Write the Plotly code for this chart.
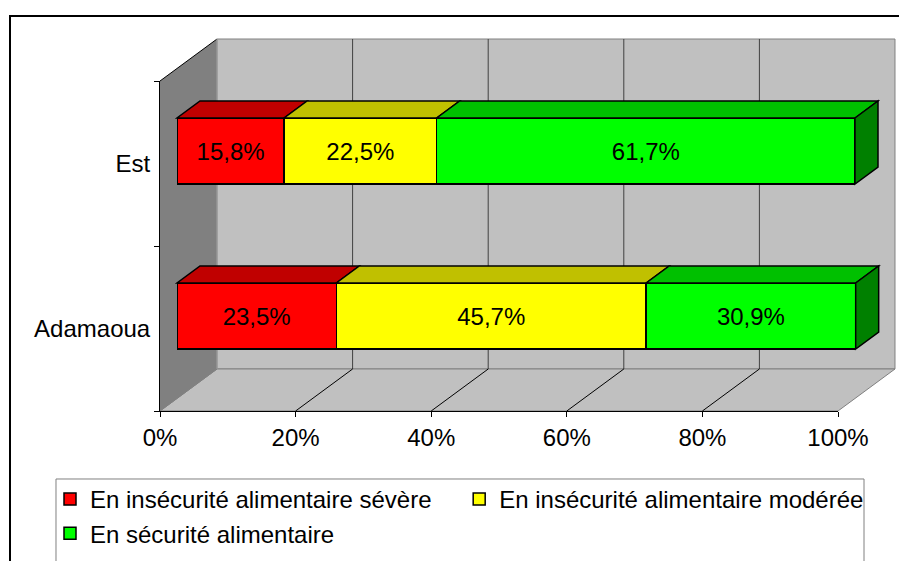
import plotly.graph_objects as go

# ---- data -------------------------------------------------------------
regions = ["Adamaoua", "Est"]
severe = [23.5, 15.8]
moderate = [45.7, 22.5]
secure = [30.9, 61.7]
series_names = [
    "En insécurité alimentaire sévère",
    "En insécurité alimentaire modérée",
    "En sécurité alimentaire",
]
x_ticks = [0, 20, 40, 60, 80, 100]
x_tick_labels = ["0%", "20%", "40%", "60%", "80%", "100%"]

# ---- styling ----------------------------------------------------------
front_colors = ["#FF0000", "#FFFF00", "#00FF00"]
top_colors = ["#C00000", "#C0C000", "#00C000"]
side_color = "#008000"
FONT = "Arial, 'Liberation Sans', sans-serif"
FS = 24

# ---- pseudo-3D box geometry (pixels) ----------------------------------
W, H = 899, 561
FX0, FX1 = 160, 838          # front floor edge, 0% .. 100%
FY0, FY1 = 81, 411           # front plane, top .. bottom
WALL_DX, WALL_DY = 57, 42    # depth of the box
BAR_DX, BAR_DY = 17, 12.5    # bars stand inside the box
FACE_DX, FACE_DY = 23, 17    # thickness of each bar
BAR_WIDTH = 0.4


def px(x):
    return x / W


def py(y):
    return 1 - y / H


def scale_x(v, shift=0.0):
    return FX0 + shift + v / 100 * (FX1 - FX0)


def band():
    return (FY1 - FY0) / len(regions)


def cat_center(i, shift=0.0):
    return FY1 - shift - (i + 0.5) * band()


def poly(points, fill, line_color=None, lw=1, layer="below"):
    path = "M" + " L".join(f"{px(x):.5f},{py(y):.5f}" for x, y in points) + " Z"
    return dict(type="path", xref="paper", yref="paper", path=path,
                fillcolor=fill, layer=layer,
                line=dict(color=line_color or "rgba(0,0,0,0)", width=lw if line_color else 0))


def seg(x0, y0, x1, y1, color, lw=1, layer="below"):
    return dict(type="line", xref="paper", yref="paper",
                x0=px(x0), y0=py(y0), x1=px(x1), y1=py(y1),
                layer=layer, line=dict(color=color, width=lw))


shapes = []
# legend panel
shapes.append(poly([(56, 479), (864, 479), (864, H + 20), (56, H + 20)],
                   "#FFFFFF", "#808080", 1))
# back wall
bx0, bx1 = FX0 + WALL_DX, FX1 + WALL_DX
by0, by1 = FY0 - WALL_DY, FY1 - WALL_DY
shapes.append(poly([(bx0, by0), (bx1, by0), (bx1, by1), (bx0, by1)], "#C0C0C0", "#808080"))
# floor
shapes.append(poly([(FX0, FY1), (FX1, FY1), (bx1, by1), (bx0, by1)], "#C0C0C0", "#808080"))
# left wall
shapes.append(poly([(FX0, FY0), (bx0, by0), (bx0, by1), (FX0, FY1)], "#808080"))
shapes.append(seg(FX0, FY0, bx0, by0, "#000000", 1))
shapes.append(seg(bx0, by0, bx0, by1, "#A0A0A0", 1))
# gridlines: up the back wall, then across the floor
for t in x_ticks[1:-1]:
    xb = scale_x(t, WALL_DX)
    xf = scale_x(t)
    shapes.append(seg(xb, by0, xb, by1, "#404040", 1))
    shapes.append(seg(xb, by1, xf, FY1, "#000000", 1))
shapes.append(seg(bx0, by1, FX0, FY1, "#808080", 1))

# top and end faces of the stacked bars
stack = [severe, moderate, secure]
half = BAR_WIDTH / 2 * band()
for i in range(len(regions)):
    cum = 0.0
    yc = cat_center(i, BAR_DY)
    ytop, ybot = yc - half, yc + half
    for k, vals in enumerate(stack):
        x0 = scale_x(cum, BAR_DX)
        cum += vals[i]
        x1 = scale_x(cum, BAR_DX)
        shapes.append(poly([(x0, ytop), (x1, ytop), (x1 + FACE_DX, ytop - FACE_DY),
                            (x0 + FACE_DX, ytop - FACE_DY)],
                           top_colors[k], "#000000", 1.5, "above"))
        if k == len(stack) - 1:
            shapes.append(poly([(x1, ytop), (x1 + FACE_DX, ytop - FACE_DY),
                                (x1 + FACE_DX, ybot - FACE_DY), (x1, ybot)],
                               side_color, "#000000", 1.5, "above"))

# chart frame
shapes.append(dict(type="rect", xref="paper", yref="paper",
                   x0=px(10), y0=py(16), x1=px(W + 20), y1=py(H + 20),
                   layer="above", line=dict(color="#000000", width=2)))

fig = go.Figure()

# holds the category axis of the front plane
fig.add_trace(go.Scatter(x=[0] * len(regions), y=regions, mode="markers",
                         marker=dict(opacity=0), showlegend=False,
                         hoverinfo="skip", xaxis="x", yaxis="y"))

for k, vals in enumerate(stack):
    fig.add_trace(go.Bar(
        y=regions, x=vals, orientation="h", name=series_names[k],
        xaxis="x2", yaxis="y2", width=BAR_WIDTH,
        marker=dict(color=front_colors[k], line=dict(color="#000000", width=1.5)),
        texttemplate="%{x:.1f}%", textposition="inside",
        insidetextanchor="middle", constraintext="none",
        textfont=dict(family=FONT, size=FS, color="#000000"),
    ))

fig.update_layout(
    width=W, height=H,
    margin=dict(l=0, r=0, t=0, b=0, autoexpand=False),
    paper_bgcolor="#FFFFFF", plot_bgcolor="rgba(0,0,0,0)",
    font=dict(family=FONT, size=FS, color="#000000"),
    barmode="stack", separators=", ",
    shapes=shapes,
    xaxis=dict(domain=[px(FX0), px(FX1)], range=[0, 100], anchor="y",
               tickvals=x_ticks, ticktext=x_tick_labels,
               ticks="outside", ticklen=5, tickcolor="#000000",
               showline=True, linecolor="#000000", linewidth=1,
               showgrid=False, zeroline=False, fixedrange=True,
               automargin=False),
    yaxis=dict(domain=[py(FY1), py(FY0)], type="category",
               categoryarray=regions, range=[-0.5, len(regions) - 0.5], anchor="x",
               ticks="outside", tickson="boundaries", ticklen=5, tickcolor="#000000",
               ticklabelstandoff=4,
               showline=True, linecolor="#000000", linewidth=1,
               showgrid=False, zeroline=False, fixedrange=True,
               automargin=False),
    xaxis2=dict(domain=[px(FX0 + BAR_DX), px(FX1 + BAR_DX)], range=[0, 100],
                anchor="y2", visible=False, fixedrange=True),
    yaxis2=dict(domain=[py(FY1 - BAR_DY), py(FY0 - BAR_DY)], type="category",
                categoryarray=regions, range=[-0.5, len(regions) - 0.5],
                anchor="x2", visible=False, fixedrange=True),
    legend=dict(orientation="h", x=px(50), xanchor="left", y=py(477), yanchor="top",
                bgcolor="rgba(0,0,0,0)", borderwidth=0,
                font=dict(family=FONT, size=FS, color="#000000"),
                traceorder="normal"),
    showlegend=True,
)

fig.write_html("out.html")
